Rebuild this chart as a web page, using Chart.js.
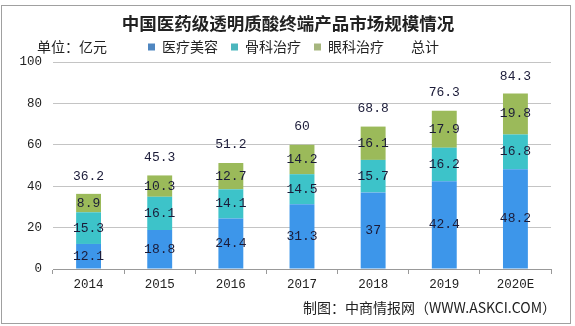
<!DOCTYPE html>
<html>
<head>
<meta charset="utf-8">
<script src="https://cdn.jsdelivr.net/npm/chart.js@4.4.0/dist/chart.umd.min.js"></script>
<style>
  html, body { margin: 0; padding: 0; background: #fff; }
  #wrap { width: 575px; height: 326px; }
</style>
</head>
<body>
<div id="wrap"><canvas id="myChart" width="575" height="326"></canvas></div>
<script>
const years = ['2014', '2015', '2016', '2017', '2018', '2019', '2020E'];
const beauty = [12.1, 18.8, 24.4, 31.3, 37, 42.4, 48.2];
const ortho = [15.3, 16.1, 14.1, 14.5, 15.7, 16.2, 16.8];
const ophthal = [8.9, 10.3, 12.7, 14.2, 16.1, 17.9, 19.8];
const totals = [36.2, 45.3, 51.2, 60, 68.8, 76.3, 84.3];

const cjk = '"Noto Sans CJK SC", sans-serif';
const mono = '"Liberation Mono", monospace';
const barColors = ['#3d96ea', '#3dc3c9', '#9bba5a'];
const legendColors = ['#4f86c0', '#4bb6bd', '#a6b67e', 'rgba(0,0,0,0)'];

// frame, title, unit and source text
const decorPlugin = {
  id: 'decor',
  beforeDraw(chart) {
    const { ctx } = chart;
    ctx.save();
    ctx.fillStyle = '#fff';
    ctx.fillRect(0, 0, chart.width, chart.height);
    ctx.strokeStyle = '#a0a0a0';
    ctx.lineWidth = 1;
    ctx.strokeRect(1.5, 5.5, 569, 318);

    ctx.fillStyle = '#222';
    ctx.textBaseline = 'middle';
    ctx.textAlign = 'center';
    ctx.font = `bold 17.5px ${cjk}`;
    ctx.fillText('中国医药级透明质酸终端产品市场规模情况', 288, 23);

    ctx.textAlign = 'left';
    ctx.font = `14px ${cjk}`;
    ctx.fillText('单位：亿元', 37, 47);

    ctx.textAlign = 'right';
    ctx.fillText('制图：中商情报网（WWW.ASKCI.COM）', 556, 308);
    ctx.restore();
  },
};

// value labels inside segments, totals above the stack
const labelPlugin = {
  id: 'valueLabels',
  afterDatasetsDraw(chart) {
    const { ctx } = chart;
    const y = chart.scales.y;
    ctx.save();
    ctx.font = `13px ${mono}`;
    ctx.fillStyle = '#1b1b38';
    ctx.textAlign = 'center';
    ctx.textBaseline = 'middle';
    [0, 1, 2].forEach((di) => {
      const meta = chart.getDatasetMeta(di);
      const values = chart.data.datasets[di].data;
      meta.data.forEach((bar, i) => {
        ctx.fillText(String(values[i]), bar.x, (bar.y + bar.base) / 2);
      });
    });
    const meta = chart.getDatasetMeta(0);
    totals.forEach((t, i) => {
      ctx.fillText(String(t), meta.data[i].x, y.getPixelForValue(t) - 18);
    });
    ctx.restore();
  },
};

// trim the legend box so the plot starts right below it,
// and nudge the legend row to the right of the unit text
const legendPlacePlugin = {
  id: 'legendPlace',
  beforeInit(chart) {
    const origFit = chart.legend.fit;
    chart.legend.fit = function () {
      origFit.bind(chart.legend)();
      this.height -= 2;
    };
  },
  afterLayout(chart) {
    chart.legend.left += 18;
    chart.legend.right += 18;
  },
};

new Chart(document.getElementById('myChart'), {
  type: 'bar',
  data: {
    labels: years,
    datasets: [
      { label: '医疗美容', data: beauty, backgroundColor: barColors[0] },
      { label: '骨科治疗', data: ortho, backgroundColor: barColors[1] },
      { label: '眼科治疗', data: ophthal, backgroundColor: barColors[2] },
      {
        type: 'line',
        label: '总计',
        data: totals,
        showLine: false,
        pointRadius: 0,
        borderColor: 'rgba(0,0,0,0)',
        backgroundColor: 'rgba(0,0,0,0)',
      },
    ],
  },
  options: {
    responsive: false,
    animation: false,
    layout: { padding: { left: 0, right: 24, top: 27, bottom: 30 } },
    datasets: {
      bar: { barPercentage: 0.35, categoryPercentage: 1 },
    },
    scales: {
      x: {
        stacked: true,
        afterFit(scale) { scale.height = 27; },
        border: { color: '#999' },
        grid: { drawOnChartArea: false, tickLength: 5, color: '#999' },
        ticks: { color: '#222', padding: 3, font: { family: mono, size: 12.5 } },
      },
      y: {
        stacked: true,
        min: 0,
        max: 100,
        afterFit(scale) { scale.width = 53; },
        border: { display: false },
        grid: { color: '#c4c4c4', drawTicks: false },
        ticks: { stepSize: 20, color: '#222', padding: 11, font: { family: mono, size: 12.5 } },
      },
    },
    plugins: {
      legend: {
        position: 'top',
        labels: {
          boxWidth: 7,
          boxHeight: 7,
          padding: 13,
          color: '#222',
          font: { family: cjk, size: 14 },
          generateLabels(chart) {
            const items = Chart.defaults.plugins.legend.labels.generateLabels(chart);
            items.forEach((item, i) => {
              item.fillStyle = legendColors[i];
              item.strokeStyle = legendColors[i];
              item.lineWidth = 0;
            });
            return items;
          },
        },
      },
      tooltip: { enabled: false },
    },
  },
  plugins: [decorPlugin, labelPlugin, legendPlacePlugin],
});
</script>
</body>
</html>
